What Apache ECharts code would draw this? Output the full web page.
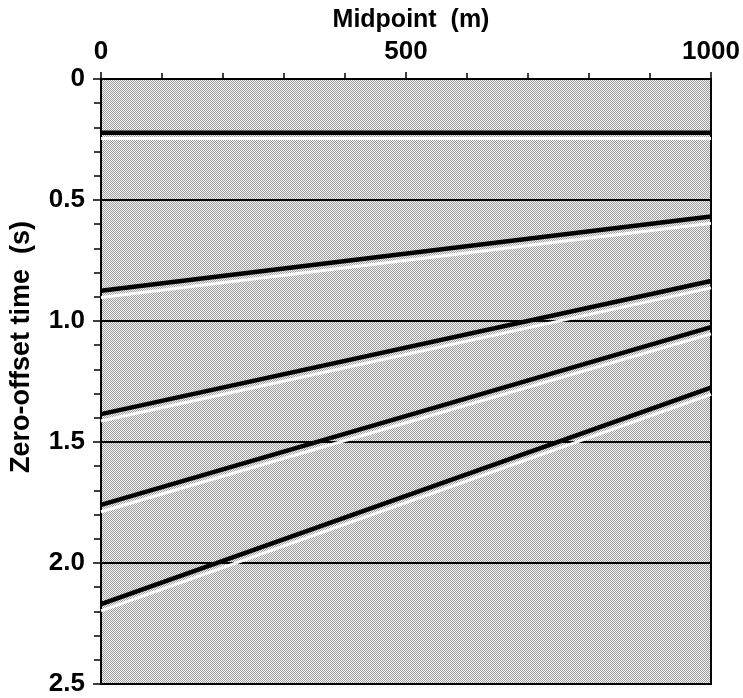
<!DOCTYPE html>
<html>
<head>
<meta charset="utf-8">
<script src="https://cdn.jsdelivr.net/npm/echarts@6/dist/echarts.min.js"></script>
<style>html,body{margin:0;padding:0;background:#fff;}#c{width:743px;height:698px;}</style>
</head>
<body>
<div id="c"></div>
<script>
// Midpoint range (m) and time range (s)
const xTicks = [0, 500, 1000];
const yTicks = [0, 0.5, 1.0, 1.5, 2.0, 2.5];
// Reflection events: time at midpoint 0 and at midpoint 1000
const eventMidpoints = [0, 1000];
const eventStart = [0.222, 0.875, 1.385, 1.76, 2.17];
const eventEnd   = [0.222, 0.568, 0.835, 1.025, 1.275];
// white side lobes trailing each event
const lobeStart  = [0.246, 0.903, 1.413, 1.788, 2.198];
const lobeEnd    = [0.246, 0.596, 0.863, 1.053, 1.303];

function makePattern() {
  const cv = document.createElement('canvas');
  cv.width = 2; cv.height = 2;
  const g = cv.getContext('2d');
  g.fillStyle = '#f4f4f4'; g.fillRect(0, 0, 2, 2);
  g.fillStyle = '#9c9c9c'; g.fillRect(0, 0, 1, 1); g.fillRect(1, 1, 1, 1);
  return { image: cv, repeat: 'repeat' };
}

const series = [];
eventStart.forEach((s, i) => {
  series.push({
    type: 'line', silent: true, symbol: 'none', z: 3,
    data: [[eventMidpoints[0], lobeStart[i]], [eventMidpoints[1], lobeEnd[i]]],
    lineStyle: { color: '#ffffff', width: 3, opacity: 0.95 }
  });
});
eventStart.forEach((s, i) => {
  series.push({
    type: 'line', silent: true, symbol: 'none', z: 4,
    data: [[eventMidpoints[0], s], [eventMidpoints[1], eventEnd[i]]],
    lineStyle: { color: '#000000', width: 4.5 }
  });
});

const FONT = '"Liberation Sans", Arial, Helvetica, sans-serif';
const chart = echarts.init(document.getElementById('c'), null, { renderer: 'canvas' });
chart.setOption({
  animation: false,
  backgroundColor: '#ffffff',
  grid: {
    left: 101, right: 32, top: 79, bottom: 14,
    show: true, backgroundColor: makePattern(), borderColor: '#000', borderWidth: 2
  },
  title: {
    text: 'Midpoint  (m)', left: 406, top: 3, textAlign: 'center',
    textStyle: { fontFamily: FONT, fontSize: 25, fontWeight: 'bold', color: '#000' }
  },
  xAxis: {
    type: 'value', position: 'top', min: xTicks[0], max: xTicks[xTicks.length - 1], interval: 500,
    axisLine: { show: true, lineStyle: { color: '#000', width: 2 } },
    axisTick: { show: true, inside: false, length: 7, lineStyle: { color: '#000', width: 1.5 } },
    minorTick: { show: true, splitNumber: 5, length: 6, lineStyle: { color: '#000', width: 1.5 } },
    splitLine: { show: false },
    axisLabel: {
      margin: 14, fontFamily: FONT, fontSize: 26, fontWeight: 'bold', color: '#000',
      formatter: v => String(v)
    }
  },
  yAxis: {
    type: 'value', inverse: true, min: yTicks[0], max: yTicks[yTicks.length - 1], interval: 0.5,
    axisLine: { show: true, lineStyle: { color: '#000', width: 2 } },
    axisTick: { show: true, inside: false, length: 8, lineStyle: { color: '#000', width: 1.5 } },
    minorTick: { show: true, splitNumber: 5, length: 7, lineStyle: { color: '#000', width: 1.5 } },
    splitLine: { show: true, lineStyle: { color: '#000', width: 2 } },
    axisLabel: {
      margin: 16, fontFamily: FONT, fontSize: 26, fontWeight: 'bold', color: '#000',
      formatter: v => (v === 0 ? '0' : v.toFixed(1))
    }
  },
  graphic: [{
    type: 'text', x: 22, y: 347, rotation: Math.PI / 2,
    style: {
      text: 'Zero-offset time  (s)', fill: '#000',
      font: 'bold 27px ' + FONT, align: 'center', verticalAlign: 'middle'
    }
  }],
  series: series
});
</script>
</body>
</html>
